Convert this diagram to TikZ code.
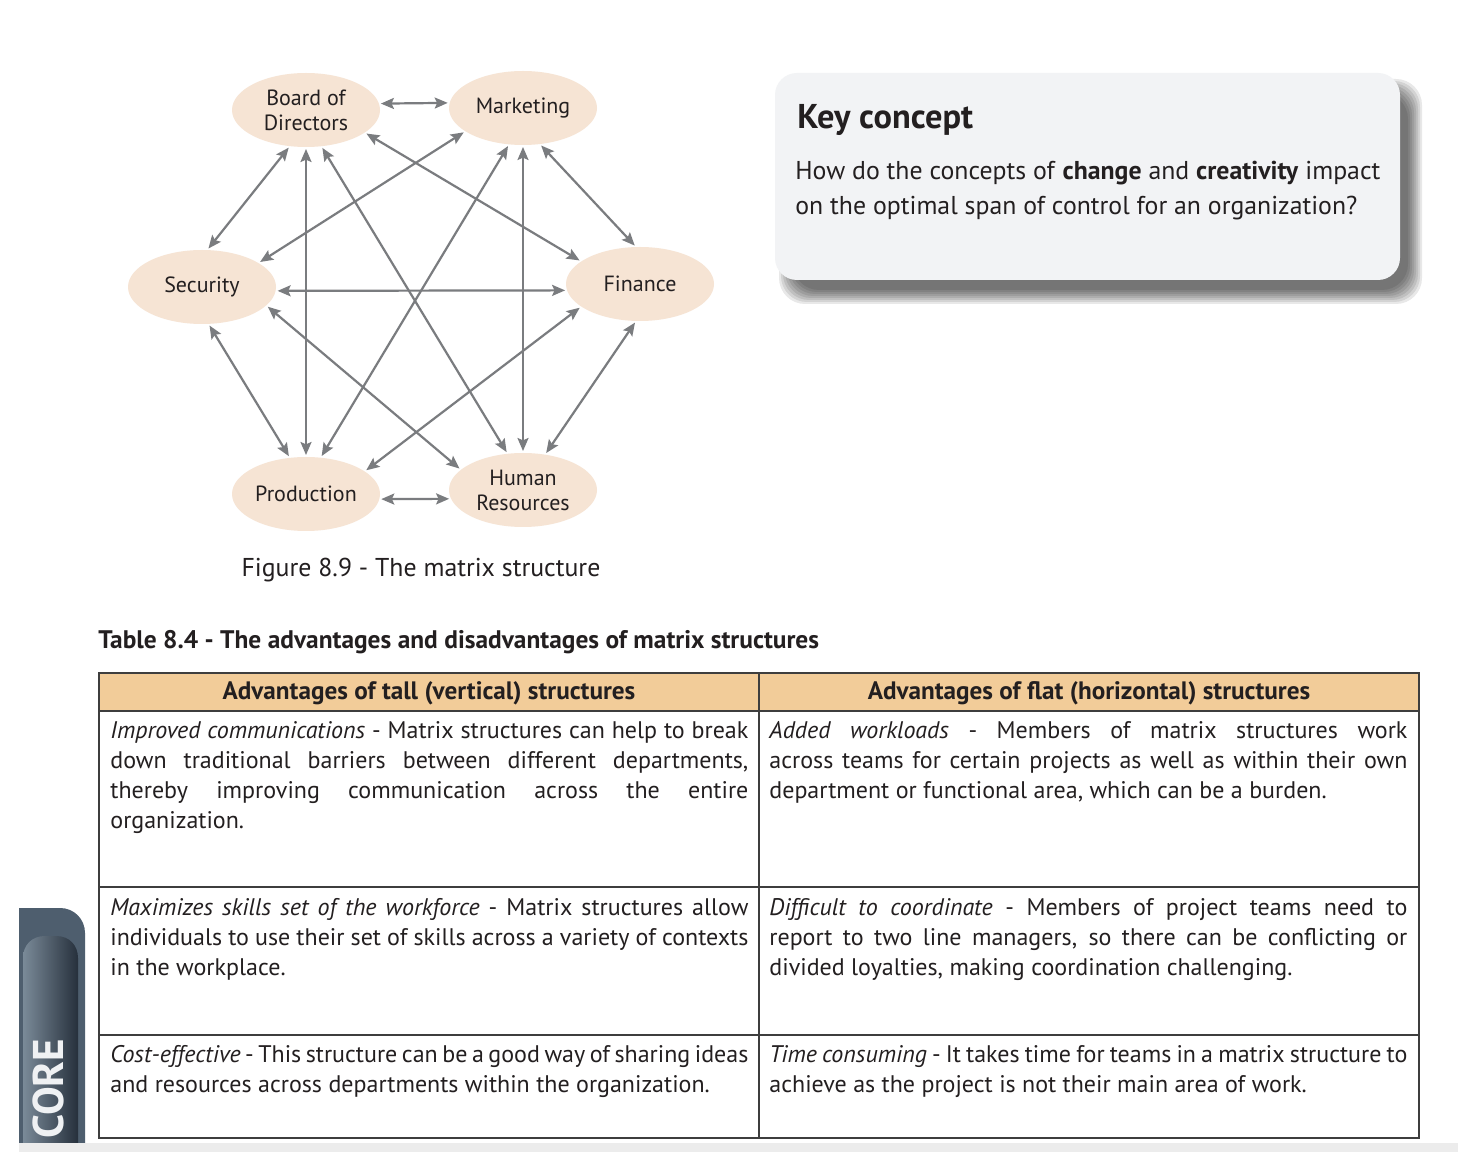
\documentclass[tikz,border=0pt]{standalone}
\usepackage{fontspec}
\setmainfont{PT Sans}
\usetikzlibrary{shapes.geometric, arrows.meta, positioning, calc}
\usepackage{xcolor}
\definecolor{deptfill}{RGB}{246,228,212}
\definecolor{linkgray}{RGB}{122,124,127}
\definecolor{headtan}{RGB}{242,204,153}
\definecolor{rulegray}{RGB}{62,62,62}
\definecolor{keyfill}{RGB}{242,243,245}
\definecolor{inkblack}{RGB}{35,31,32}
\definecolor{tabslate}{RGB}{78,94,110}
\definecolor{tabdark}{RGB}{38,48,60}
\definecolor{tablight}{RGB}{122,138,152}
\hyphenpenalty=10000
\tikzset{
  dept/.style      = {ellipse, fill=deptfill, minimum width=74pt, minimum height=37pt,
                      inner sep=0pt, outer sep=0pt, align=center, text=inkblack,
                      font=\fontsize{11}{12.5}\selectfont},
  linkarrow/.style = {<->, >={Stealth[length=6.5pt,width=5.5pt,inset=1.2pt]},
                      line width=1.1pt, draw=linkgray, shorten <=1pt, shorten >=1pt},
  celltext/.style  = {anchor=north west, inner sep=0pt, text width=319pt, align=justify,
                      text=inkblack, font=\fontsize{12}{15}\selectfont},
  headtext/.style  = {anchor=base, inner sep=0pt, text=inkblack,
                      font=\fontsize{12.6}{14}\selectfont\bfseries},
  tablerule/.style = {draw=rulegray, line width=0.9pt}
}

\begin{document}
\begin{tikzpicture}[x=0.5pt, y=-0.5pt]
\useasboundingbox (0,0) rectangle (1458,1176);
\fill[white] (0,0) rectangle (1458,1176);
% Departments
\node[dept] (board) at (306,110) {Board of\\Directors};
\node[dept] (mkt)   at (523,108) {Marketing};
\node[dept] (sec)   at (202,287) {Security};
\node[dept] (fin)   at (640,284) {Finance};
\node[dept] (prod)  at (306,494) {Production};
\node[dept] (hr)    at (523,490) {Human\\Resources};
% Every department linked to every other
\foreach \a/\b in {board.5/mkt.176, board.246/sec.82, board.270/prod.90,
                   board.293/hr.113, board.339/fin.159, mkt.202/sec.23,
                   mkt.249/prod.68, mkt.270/hr.90, mkt.295/fin.96,
                   sec.357/fin.185, sec.280/prod.114, sec.344/hr.162,
                   fin.201/prod.21, fin.264/hr.58, prod.356/hr.187}
  \draw[linkarrow] (\a) -- (\b);
\node[anchor=base, inner sep=0pt, text=inkblack, font=\fontsize{12.9}{15}\selectfont] (caption)
  at (421,577) {Figure 8.9 - The matrix structure};
% Key concept box with soft shadow
\foreach \s in {10,8,...,-4}
  \fill[black, opacity=0.09, rounded corners=13pt] (789-\s,89-\s) rectangle (1412+\s,294+\s);
\fill[keyfill, rounded corners=11pt] (775,73) rectangle (1400,280);
\node[anchor=base west, inner sep=0pt, text=inkblack, font=\fontsize{17.2}{20}\selectfont\bfseries]
  (keytitle) at (797,129) {Key concept};
\node[anchor=north west, align=left, inner sep=0pt, text=inkblack,
      font=\fontsize{12.9}{17.5}\selectfont] (keytext) at (795,155)
  {\strut How do the concepts of \textbf{change} and \textbf{creativity} impact\\
   on the optimal span of control for an organization?};
% Table
\node[anchor=base west, inner sep=0pt, text=inkblack, font=\fontsize{12.7}{15}\selectfont\bfseries]
  (tabtitle) at (98,649) {Table 8.4 - The advantages and disadvantages of matrix structures};
\fill[headtan] (99,673) rectangle (1419,711);
\foreach \y in {711,887,1035}
  \draw[tablerule] (99,\y) -- (1419,\y);
\draw[tablerule] (759,673) -- (759,1138);
\draw[tablerule, line width=1.2pt] (99,673) rectangle (1419,1138);
\node[headtext] (headl) at (429,700) {Advantages of tall (vertical) structures};
\node[headtext] (headr) at (1089,700) {Advantages of flat (horizontal) structures};
\node[celltext] (celll1) at (110,717)
  {\strut\textit{Improved communications} - Matrix structures can help to break\linebreak
   down traditional barriers between different departments,\linebreak
   thereby improving communication across the entire\linebreak
   organization.};
\node[celltext] (cellr1) at (769,717)
  {\strut\textit{Added workloads} - Members of matrix structures work\linebreak
   across teams for certain projects as well as within their own\linebreak
   department or functional area, which can be a burden.};
\node[celltext] (celll2) at (110,894)
  {\strut\textit{Maximizes skills set of the workforce} - Matrix structures allow\linebreak
   individuals to use their set of skills across a variety of contexts\linebreak
   in the workplace.};
\node[celltext] (cellr2) at (769,894)
  {\strut\textit{Difficult to coordinate} - Members of project teams need to\linebreak
   report to two line managers, so there can be conflicting or\linebreak
   divided loyalties, making coordination challenging.};
\node[celltext] (celll3) at (110,1041)
  {\strut\textit{Cost-effective} - This structure can be a good way of sharing ideas\linebreak
   and resources across departments within the organization.};
\node[celltext] (cellr3) at (769,1041)
  {\strut\textit{Time consuming} - It takes time for teams in a matrix structure to\linebreak
   achieve as the project is not their main area of work.};
% Side tab
\fill[tabslate] (19,1143) -- (19,908) -- (60,908) .. controls (74,908) and (85,919) .. (85,933)
  -- (85,1143) -- cycle;
\shade[left color=tablight, right color=tabdark] (23,1143) -- (23,958)
  .. controls (23,945) and (32,936) .. (45,936) -- (56,936)
  .. controls (70,936) and (78,946) .. (78,958) -- (78,1143) -- cycle;
\node[rotate=90, anchor=base west, inner sep=0pt, text=white!88!tablight,
      font=\fontsize{21.5}{22}\selectfont\bfseries] (coretab) at (63,1139) {CORE};
\fill[gray!15] (19,1143) rectangle (1458,1152);
\end{tikzpicture}
\end{document}
